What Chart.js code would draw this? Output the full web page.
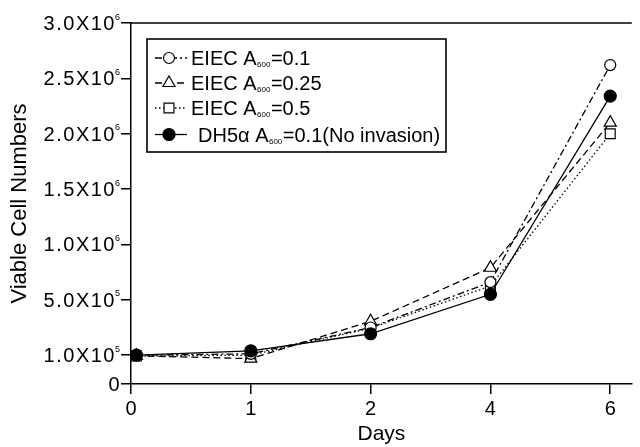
<!DOCTYPE html>
<html><head><meta charset="utf-8">
<script src="https://cdn.jsdelivr.net/npm/chart.js@4/dist/chart.umd.min.js"></script>
<style>html,body{margin:0;padding:0;background:#fff}#wrap{width:640px;height:447px}</style>
</head><body><div id="wrap"><canvas id="c" width="640" height="447"></canvas></div>
<script>
// ---- data ----
const days = ['0', '1', '2', '4', '6'];
const seriesLabels = [
  ['EIEC A', '600', '=0.1'],
  ['EIEC A', '600', '=0.25'],
  ['EIEC A', '600', '=0.5'],
  ['DH5\u03B1 A', '600', '=0.1(No invasion)']
];
const eiec01  = [1.0e5, 1.1e5, 3.0e5, 6.6e5, 2.62e6];
const eiec025 = [0.98e5, 0.88e5, 3.45e5, 7.9e5, 2.10e6];
const eiec05  = [0.97e5, 1.0e5, 2.95e5, 6.25e5, 2.00e6];
const dh5a    = [1.0e5, 1.32e5, 2.55e5, 5.5e5, 2.34e6];
const yTickValues = [0, 1e5, 5e5, 1e6, 1.5e6, 2e6, 2.5e6, 3e6];
const yTickMantissa = ['0', '1.0X10', '5.0X10', '1.0X10', '1.5X10', '2.0X10', '2.5X10', '3.0X10'];
const yTickExponent = ['', '5', '5', '6', '6', '6', '6', '6'];

// ---- styles ----
const FONT = '"Liberation Sans", Arial, Helvetica, sans-serif';
const styles = [
  {pointStyle: 'circle', radius: 5.5, fill: '#fff', dash: [7, 3, 2, 3], order: 1, legendX: 191},
  {pointStyle: 'triangle', radius: 7, fill: '#fff', dash: [7, 4], order: 2, legendX: 191},
  {pointStyle: 'rect', radius: 7, fill: '#fff', dash: [1.5, 2.5], order: 3, legendX: 191},
  {pointStyle: 'circle', radius: 6, fill: '#000', dash: [], order: 0, legendX: 198}
];
const seriesValues = [eiec01, eiec025, eiec05, dh5a];
const day0Shift = 0.045;

// piecewise axis: 0 -> 1e5 is half a step, then 1e5 -> 5e5 one step, then 5e5 per step
function toU(v) {
  if (v <= 1e5) return v / 1e5 * 0.52;
  if (v <= 5e5) return 0.52 + (v - 1e5) / 4e5;
  return 1.52 + (v - 5e5) / 5e5;
}

const datasets = seriesValues.map((vals, k) => ({
  label: seriesLabels[k].join(''),
  data: vals.map((v, i) => ({x: i + (i === 0 ? day0Shift : 0), y: toU(v)})),
  borderColor: '#000',
  borderWidth: 1.3,
  borderDash: styles[k].dash,
  pointStyle: styles[k].pointStyle,
  pointRadius: styles[k].radius,
  pointBackgroundColor: styles[k].fill,
  pointBorderColor: '#000',
  pointBorderWidth: 1.2,
  tension: 0,
  fill: false,
  order: styles[k].order
}));

function drawMarker(ctx, style, r, fill, x, y) {
  ctx.save();
  ctx.setLineDash([]);
  ctx.lineWidth = 1.2;
  ctx.strokeStyle = '#000';
  ctx.fillStyle = fill;
  ctx.beginPath();
  if (style === 'circle') {
    ctx.arc(x, y, r, 0, Math.PI * 2);
  } else if (style === 'triangle') {
    let rad = 0;
    ctx.moveTo(x + Math.sin(rad) * r, y - Math.cos(rad) * r);
    rad += 2 * Math.PI / 3;
    ctx.lineTo(x + Math.sin(rad) * r, y - Math.cos(rad) * r);
    rad += 2 * Math.PI / 3;
    ctx.lineTo(x + Math.sin(rad) * r, y - Math.cos(rad) * r);
    ctx.closePath();
  } else {
    const s = Math.SQRT1_2 * r;
    ctx.rect(x - s, y - s, 2 * s, 2 * s);
  }
  ctx.fill();
  ctx.stroke();
  ctx.restore();
}

const decor = {
  id: 'decor',
  afterDraw(chart) {
    const ctx = chart.ctx;
    const area = chart.chartArea;
    const ys = chart.scales.y;
    ctx.save();
    // top frame line
    ctx.strokeStyle = '#000';
    ctx.lineWidth = 1.5;
    ctx.beginPath();
    ctx.moveTo(area.left, area.top);
    ctx.lineTo(area.right, area.top);
    ctx.stroke();
    // y tick labels with superscripts
    ctx.fillStyle = '#000';
    ctx.textBaseline = 'alphabetic';
    const rightEdge = 120;
    yTickValues.forEach((v, i) => {
      const y = ys.getPixelForValue(toU(v));
      let supW = 0;
      ctx.letterSpacing = '0px';
      if (yTickExponent[i]) {
        ctx.font = '9px ' + FONT;
        supW = ctx.measureText(yTickExponent[i]).width;
        ctx.textAlign = 'left';
        ctx.fillText(yTickExponent[i], rightEdge - supW, y - 3.5);
      }
      ctx.font = '20px ' + FONT;
      ctx.letterSpacing = '1.5px';
      ctx.textAlign = 'right';
      ctx.fillText(yTickMantissa[i], rightEdge - supW + 1, y + 7);
      ctx.letterSpacing = '0px';
    });
    // legend
    const box = {x: 147, y: 39, w: 299, h: 113};
    ctx.lineWidth = 1.6;
    ctx.strokeStyle = '#000';
    ctx.fillStyle = '#fff';
    ctx.fillRect(box.x, box.y, box.w, box.h);
    ctx.strokeRect(box.x, box.y, box.w, box.h);
    const baselines = [65, 90, 115, 141.5];
    seriesLabels.forEach((parts, k) => {
      const st = styles[k];
      const by = baselines[k];
      const cy = by - 7;
      ctx.save();
      ctx.lineWidth = 1.3;
      ctx.setLineDash(st.dash);
      ctx.beginPath();
      ctx.moveTo(155, cy);
      ctx.lineTo(187, cy);
      ctx.stroke();
      ctx.restore();
      drawMarker(ctx, st.pointStyle, st.radius, st.fill, 169, cy);
      ctx.fillStyle = '#000';
      ctx.textAlign = 'left';
      let x = st.legendX;
      ctx.font = '20px ' + FONT;
      ctx.fillText(parts[0], x, by);
      x += ctx.measureText(parts[0]).width + 0.5;
      ctx.font = '8px ' + FONT;
      ctx.fillText(parts[1], x, by + 2);
      x += ctx.measureText(parts[1]).width + 0.5;
      ctx.font = '20px ' + FONT;
      ctx.fillText(parts[2], x, by);
    });
    ctx.restore();
  }
};

new Chart(document.getElementById('c'), {
  type: 'line',
  data: {datasets},
  options: {
    responsive: false,
    animation: false,
    devicePixelRatio: 1,
    layout: {padding: {top: 23, right: 0, bottom: 0, left: 0}},
    plugins: {legend: {display: false}, tooltip: {enabled: false}},
    scales: {
      x: {
        type: 'linear', min: 0, max: 4.18,
        afterBuildTicks: s => { s.ticks = days.map((d, i) => ({value: i})); },
        afterFit: s => { s.height = 63; },
        ticks: {
          callback: (v, i) => days[i] !== undefined ? days[i] : '',
          font: {size: 20, family: FONT}, color: '#000', padding: 3,
          maxRotation: 0, autoSkip: false
        },
        grid: {drawOnChartArea: false, drawTicks: true, tickLength: 10, color: '#000', lineWidth: 1.5},
        border: {color: '#000', width: 1.5},
        title: {display: true, text: 'Days', font: {size: 21, family: FONT}, color: '#000', padding: {top: 0, bottom: 0}}
      },
      y: {
        type: 'linear', min: 0, max: toU(3e6),
        afterBuildTicks: s => { s.ticks = yTickValues.map(v => ({value: toU(v)})); },
        afterFit: s => { s.width = 131; },
        ticks: {display: false},
        grid: {drawOnChartArea: false, drawTicks: true, tickLength: 10, color: '#000', lineWidth: 1.5},
        border: {color: '#000', width: 1.5},
        title: {display: true, text: 'Viable Cell Numbers', font: {size: 22, family: FONT}, color: '#000', padding: {top: 7, bottom: 0}}
      }
    }
  },
  plugins: [decor]
});
</script>
</body></html>
